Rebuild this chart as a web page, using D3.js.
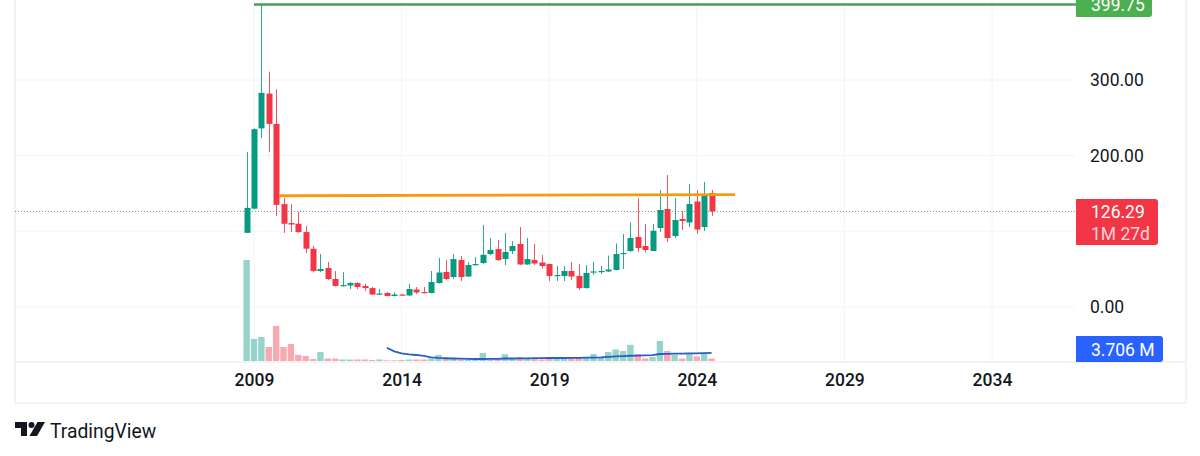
<!DOCTYPE html>
<html>
<head>
<meta charset="utf-8">
<title>TradingView chart</title>
<script src="https://cdn.jsdelivr.net/npm/d3@7"></script>
<style>
  html, body { margin: 0; padding: 0; background: #fff; }
  svg { display: block; font-family: Roboto, sans-serif; }
</style>
</head>
<body>
<svg id="chart" width="1200" height="456"></svg>
<script>
// quarterly candles, first one is Q4 2008
const firstQuarter = 2008.75;
const opens = [98,130,236,282,242,136,111,110,99,77,47.6,51.5,37,27.8,28.4,31.7,27.8,25,16.5,18.5,14.5,16.5,15.2,23.1,19.8,18.5,31.7,46.3,39.6,62.1,40.3,55.5,58.1,70,76.6,63.4,74,83.3,56.2,62.1,58.8,56.8,41,41,47.6,41,25,46.3,46.3,46.9,48.9,70,74,92.5,80.6,74,104.4,129.5,93.8,116.3,111.7,139.4,105.7,150.6];
const highs = [205,236,399.75,311,288,144,136,125.5,107,80.6,70,59.5,47.6,46,33,32.5,30.4,26.4,23.8,19.8,19.2,17.2,30.4,26.4,26.4,47.6,64.8,62,70,67.4,59.5,66,108.4,91.2,88.5,97.8,87.2,105.7,91.2,83.3,68.7,57,54.2,54.2,59.5,56.8,55.5,59.5,54.2,68,83.9,96.5,111.7,144,109.7,109.7,154.6,174.4,144,126.9,162.5,154.6,165.2,154.6];
const lows = [98,129,223,205,120,98,99,98,71.4,45.6,46,35.7,27,27,23.8,23.8,21.1,15.9,15.9,13.9,13.9,15.2,14.5,17.2,17.8,18,31,35.7,37,34.4,39.6,54.8,56.8,68.7,61,55.5,70,55.5,55.5,55.5,50.9,34.4,34.4,34.4,35.7,22.5,24.4,42.3,43.6,46.3,48.5,50.2,72.7,72.7,72,74,99,85.9,91.2,101.8,105.7,96.5,100.4,120.3];
const closes = [131,235,283,242,135,110,109,99,77,47.6,50.2,37,27.8,29,31.7,26.4,25,16.5,17.8,14.5,16.5,15.9,23.8,19.2,18.5,33,45.6,37,63.4,39.6,55.5,56.8,69,75.3,62,72.7,80.6,56.2,63.4,57.5,54.2,41,42.3,47.6,40.3,25,45,47,47.6,49.6,70,71.4,91.2,78,75.3,100.8,128.2,91.2,115,113.6,136.1,102.4,149.3,126.29];
// volume in millions
const volumes = [46.3,10.1,11,6.4,16.1,6.4,7.8,2.8,2.3,0.9,4.1,1.15,1.15,0.7,0.7,0.7,0.7,0.46,0.7,0.3,0.3,0.46,0.7,0.7,0.7,1.15,2.8,0.9,0.9,0.7,0.7,0.46,3.7,0.7,0.9,3.1,1.15,1.84,1.4,1.4,0.7,1.4,1.4,1.15,1.4,1.4,1.4,3.2,1.6,4.1,5.3,4.6,7.4,3.2,1.15,1.84,9.2,4.6,2.8,1.15,3.2,2.1,3.2,1.15];
// volume moving average, starts at candle 19
const volumeMaStart = 19;
const volumeMa = [6.1,4.4,3.45,3,2.76,2.3,1.7,1.4,1.25,1.15,1.06,1,0.92,0.92,0.97,1,1.15,1.15,1.2,1.24,1.29,1.33,1.38,1.38,1.38,1.43,1.47,1.52,1.56,1.7,1.93,2.16,2.25,2.4,2.5,2.58,2.7,3.2,3.3,3.36,3.4,3.45,3.54,3.63,3.706];

const priceTicks = [0, 100, 200, 300];
const priceLabels = [0, 200, 300];
const yearTicks = [2009, 2014, 2019, 2024, 2029, 2034];

const highLevel = 399.75;
const lastPrice = 126.29;
const countdown = "1M 27d";
const lastVolumeMa = "3.706 M";
const trendYears = [2009.85, 2025.3];
const trendPrices = [147, 148.5];

const UP = "#089981", DOWN = "#f23645";
const UP_VOL = "#96d4cb", DOWN_VOL = "#f8a9af";
const GRID = "#f3f4f6", BORDER = "#e4e6ec", TEXT = "#131722";
const FONT_SIZE = 17.5;

const paneLeft = 15, paneRight = 1075, paneBottom = 362, axisBottom = 403, frameRight = 1186;

const svg = d3.select("#chart");
const x = d3.scaleLinear().domain([2009, 2034]).range([254, 992]);
const y = d3.scaleLinear().domain([0, 300]).range([307, 80]);
const yVol = d3.scaleLinear().domain([0, 46.3]).range([361, 260]);

const date = i => firstQuarter + i * 0.25;
const idx = d3.range(opens.length);

// grid
svg.append("g").selectAll("line").data(yearTicks).join("line")
    .attr("x1", d => x(d)).attr("x2", d => x(d))
    .attr("y1", 0).attr("y2", paneBottom)
    .attr("stroke", GRID);
svg.append("g").selectAll("line").data(priceTicks).join("line")
    .attr("x1", paneLeft).attr("x2", paneRight)
    .attr("y1", d => y(d)).attr("y2", d => y(d))
    .attr("stroke", GRID);

// frame
const frame = svg.append("g").attr("stroke", BORDER).attr("fill", "none");
frame.append("path").attr("d", `M${paneLeft},0V${axisBottom}H${frameRight}V0`);
frame.append("line").attr("x1", paneLeft).attr("x2", frameRight)
    .attr("y1", paneBottom).attr("y2", paneBottom);

// volume bars
svg.append("g").selectAll("rect").data(idx).join("rect")
    .attr("x", i => x(date(i)) - 3.2)
    .attr("width", 6.4)
    .attr("y", i => yVol(volumes[i]))
    .attr("height", i => yVol(0) - yVol(volumes[i]))
    .attr("fill", i => closes[i] >= opens[i] ? UP_VOL : DOWN_VOL);

// last price line
svg.append("line")
    .attr("x1", paneLeft).attr("x2", paneRight)
    .attr("y1", y(lastPrice)).attr("y2", y(lastPrice))
    .attr("stroke", "#868993").attr("stroke-dasharray", "1 2");

// candles
const candles = svg.append("g");
candles.selectAll("line").data(idx).join("line")
    .attr("x1", i => Math.round(x(date(i))) + 0.5)
    .attr("x2", i => Math.round(x(date(i))) + 0.5)
    .attr("y1", i => y(highs[i]))
    .attr("y2", i => y(lows[i]))
    .attr("stroke", i => closes[i] >= opens[i] ? UP : DOWN)
    .attr("stroke-opacity", 0.85);
candles.selectAll("rect").data(idx).join("rect")
    .attr("x", i => Math.round(x(date(i))) + 0.5 - 3)
    .attr("width", 6)
    .attr("y", i => y(Math.max(opens[i], closes[i])))
    .attr("height", i => Math.max(1.2, Math.abs(y(opens[i]) - y(closes[i]))))
    .attr("fill", i => closes[i] >= opens[i] ? UP : DOWN);

// volume MA
svg.append("path")
    .datum(volumeMa)
    .attr("fill", "none")
    .attr("stroke", "#2b5cc8")
    .attr("stroke-width", 1.8)
    .attr("d", d3.line()
        .x((d, i) => x(date(i + volumeMaStart)))
        .y(d => yVol(d)));

// drawn levels
svg.append("line")
    .attr("x1", x(2009)).attr("x2", paneRight + 1)
    .attr("y1", y(highLevel)).attr("y2", y(highLevel))
    .attr("stroke", "#4a9f50").attr("stroke-width", 2.6);
svg.append("line")
    .attr("x1", x(trendYears[0])).attr("x2", x(trendYears[1]))
    .attr("y1", y(trendPrices[0])).attr("y2", y(trendPrices[1]))
    .attr("stroke", "#f39c12").attr("stroke-width", 2.8);

// price axis
const priceAxis = d3.axisRight(y)
    .tickValues(priceLabels)
    .tickSize(0).tickPadding(0)
    .tickFormat(d3.format(".2f"));
svg.append("g")
    .attr("transform", "translate(1090,0)")
    .call(priceAxis)
    .call(g => g.select(".domain").remove())
    .call(g => g.selectAll("text").attr("font-size", FONT_SIZE).attr("fill", TEXT).attr("font-family", "Roboto"));

// time axis
const timeAxis = d3.axisBottom(x)
    .tickValues(yearTicks)
    .tickSize(0).tickPadding(0)
    .tickFormat(d3.format("d"));
svg.append("g")
    .attr("transform", "translate(0,374)")
    .call(timeAxis)
    .call(g => g.select(".domain").remove())
    .call(g => g.selectAll("text").attr("font-size", FONT_SIZE).attr("font-weight", 500).attr("fill", TEXT).attr("font-family", "Roboto"));

// axis labels
function tag(top, bottom, width, color) {
    const r = 3, left = paneRight + 1;
    svg.append("path")
        .attr("d", `M${left},${top}H${left + width - r}q${r},0 ${r},${r}V${bottom - r}q0,${r} ${-r},${r}H${left}Z`)
        .attr("fill", color);
}
function tagText(label, cy, opacity) {
    svg.append("text")
        .attr("x", 1091).attr("y", cy).attr("dy", "0.35em")
        .attr("font-size", FONT_SIZE).attr("fill", "#fff").attr("fill-opacity", opacity)
        .text(label);
}
tag(-8, 17, 76, "#4caf50");
tagText(highLevel.toFixed(2), y(highLevel), 1);
tag(199, 245, 82, DOWN);
tagText(lastPrice.toFixed(2), y(lastPrice), 1);
tagText(countdown, 234, 0.8);
tag(336, 362, 87, "#2962ff");
tagText(lastVolumeMa, 350, 1);

// logo
const logo = svg.append("g").attr("fill", TEXT);
logo.append("path").attr("d", "M15,422H27V436H21V428H15Z");
logo.append("circle").attr("cx", 31.5).attr("cy", 425).attr("r", 3);
logo.append("path").attr("d", "M37.5,422H45L37,436H29.5Z");
svg.append("text")
    .attr("x", 50).attr("y", 431).attr("dy", "0.35em")
    .attr("font-size", 19.3).attr("fill", TEXT)
    .text("TradingView");
</script>
</body>
</html>
